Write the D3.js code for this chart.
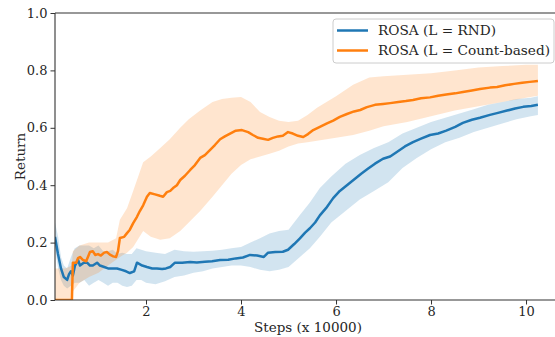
<!DOCTYPE html>
<html>
<head>
<meta charset="utf-8">
<script src="https://cdn.jsdelivr.net/npm/d3@7"></script>
<style>
  body { margin: 0; background: #fff; }
  svg { display: block; font-family: "DejaVu Serif", serif; }
</style>
</head>
<body>
<svg id="chart"></svg>
<script>
// ROSA (L = RND): mean curve
const rndX = [0.084, 0.147, 0.21, 0.27, 0.34, 0.38, 0.42, 0.46, 0.505, 0.57, 0.61, 0.69, 0.76, 0.82, 0.88, 0.97,
  1.03, 1.12, 1.2, 1.28, 1.39, 1.49, 1.58, 1.66, 1.75, 1.81, 1.92, 2.02, 2.13, 2.23, 2.34, 2.42, 2.51, 2.61, 2.76,
  2.93, 3.07, 3.24, 3.39, 3.56, 3.73, 3.89, 4.04, 4.19, 4.34, 4.48, 4.57, 4.72, 4.88, 4.99, 5.12, 5.24, 5.35, 5.45,
  5.56, 5.66, 5.79, 5.94, 6.08, 6.23, 6.38, 6.53, 6.67, 6.82, 6.99, 7.14, 7.28, 7.45, 7.62, 7.79, 7.98, 8.15, 8.32,
  8.51, 8.67, 8.86, 9.03, 9.24, 9.41, 9.6, 9.77, 9.94, 10.11, 10.25];
const rndMean = [0.22, 0.16, 0.11, 0.08, 0.07, 0.09, 0.10, 0.085, 0.12, 0.14, 0.12, 0.13, 0.13, 0.12, 0.12, 0.13,
  0.12, 0.115, 0.11, 0.11, 0.11, 0.105, 0.10, 0.094, 0.10, 0.13, 0.12, 0.115, 0.11, 0.11, 0.108, 0.11, 0.115, 0.13, 0.13,
  0.132, 0.131, 0.133, 0.135, 0.139, 0.14, 0.145, 0.148, 0.157, 0.155, 0.15, 0.165, 0.167, 0.168, 0.175, 0.195, 0.215, 0.235, 0.25,
  0.27, 0.295, 0.32, 0.355, 0.38, 0.40, 0.42, 0.44, 0.457, 0.475, 0.492, 0.50, 0.516, 0.535, 0.55, 0.562, 0.575, 0.58, 0.59,
  0.603, 0.617, 0.628, 0.635, 0.645, 0.652, 0.66, 0.667, 0.673, 0.676, 0.68];

// ROSA (L = RND): shaded band
const rndBandX = [0.084, 0.15, 0.21, 0.27, 0.34, 0.42, 0.5, 0.6, 0.7, 0.8, 0.9, 1.0, 1.1, 1.2, 1.3, 1.4, 1.5, 1.6,
  1.7, 1.8, 1.9, 2.0, 2.2, 2.4, 2.6, 2.8, 3.0, 3.2, 3.4, 3.6, 3.8, 4.0, 4.2, 4.4, 4.6, 4.8, 5.0, 5.24, 5.45, 5.66,
  5.9, 6.2, 6.5, 6.8, 7.1, 7.4, 7.7, 8.0, 8.3, 8.6, 8.9, 9.2, 9.5, 9.8, 10.1, 10.25];
const rndLow = [0.18, 0.11, 0.07, 0.05, 0.04, 0.05, 0.06, 0.06, 0.07, 0.05, 0.06, 0.07, 0.06, 0.05, 0.06, 0.06, 0.05, 0.045,
  0.05, 0.07, 0.07, 0.06, 0.055, 0.065, 0.08, 0.085, 0.095, 0.10, 0.11, 0.115, 0.12, 0.12, 0.115, 0.105, 0.10, 0.105, 0.115, 0.15, 0.18, 0.22,
  0.27, 0.31, 0.35, 0.38, 0.41, 0.46, 0.495, 0.525, 0.55, 0.565, 0.585, 0.60, 0.615, 0.63, 0.64, 0.645];
const rndHigh = [0.27, 0.22, 0.15, 0.12, 0.11, 0.15, 0.18, 0.19, 0.19, 0.19, 0.18, 0.19, 0.17, 0.17, 0.175, 0.16, 0.165, 0.16,
  0.16, 0.18, 0.175, 0.17, 0.165, 0.16, 0.175, 0.17, 0.168, 0.17, 0.172, 0.175, 0.18, 0.185, 0.2, 0.215, 0.232, 0.24, 0.245, 0.296, 0.34, 0.39,
  0.43, 0.475, 0.505, 0.53, 0.55, 0.58, 0.60, 0.62, 0.635, 0.65, 0.665, 0.68, 0.69, 0.70, 0.705, 0.71];

// ROSA (L = Count-based): mean curve
const cntX = [0.084, 0.44, 0.46, 0.53, 0.57, 0.61, 0.67, 0.74, 0.82, 0.88, 0.93, 0.99, 1.05, 1.12, 1.18, 1.24, 1.31,
  1.37, 1.41, 1.45, 1.54, 1.6, 1.66, 1.73, 1.81, 1.87, 1.94, 2.02, 2.08, 2.19, 2.29, 2.36, 2.44, 2.51, 2.57, 2.65,
  2.72, 2.82, 2.93, 3.03, 3.14, 3.24, 3.35, 3.45, 3.56, 3.66, 3.77, 3.89, 4.02, 4.15, 4.25, 4.36, 4.46, 4.57, 4.67,
  4.78, 4.88, 4.99, 5.09, 5.2, 5.31, 5.41, 5.52, 5.66, 5.81, 5.94, 6.08, 6.23, 6.38, 6.51, 6.65, 6.82, 6.99, 7.14,
  7.31, 7.47, 7.62, 7.79, 7.98, 8.15, 8.32, 8.51, 8.67, 8.86, 9.03, 9.24, 9.39, 9.56, 9.75, 9.92, 10.08, 10.25];
const cntMean = [0, 0, 0.13, 0.13, 0.146, 0.15, 0.14, 0.135, 0.167, 0.17, 0.157, 0.16, 0.155, 0.165, 0.167, 0.158, 0.152,
  0.15, 0.17, 0.216, 0.22, 0.233, 0.245, 0.268, 0.29, 0.31, 0.33, 0.36, 0.373, 0.368, 0.363, 0.36, 0.376, 0.38, 0.39, 0.40,
  0.418, 0.433, 0.453, 0.47, 0.495, 0.505, 0.523, 0.54, 0.56, 0.57, 0.58, 0.59, 0.592, 0.585, 0.575, 0.565, 0.562, 0.558, 0.565,
  0.57, 0.572, 0.585, 0.58, 0.572, 0.568, 0.578, 0.592, 0.603, 0.615, 0.625, 0.638, 0.648, 0.657, 0.662, 0.672, 0.68, 0.683, 0.686,
  0.69, 0.693, 0.697, 0.703, 0.706, 0.712, 0.716, 0.72, 0.725, 0.73, 0.735, 0.74, 0.742, 0.748, 0.753, 0.757, 0.76, 0.763];

// ROSA (L = Count-based): shaded band
const cntBandX = [0.084, 0.3, 0.44, 0.46, 0.6, 0.8, 1.0, 1.2, 1.37, 1.45, 1.6, 1.73, 1.94, 2.1, 2.3, 2.5, 2.72, 2.9,
  3.14, 3.4, 3.6, 3.8, 4.0, 4.2, 4.4, 4.6, 4.8, 5.0, 5.2, 5.4, 5.6, 5.8, 6.0, 6.36, 6.7, 7.0, 7.5, 8.0, 8.5, 9.0,
  9.5, 10.0, 10.25];
const cntLow = [0, 0, 0, 0.03, 0.06, 0.08, 0.095, 0.12, 0.14, 0.15, 0.165, 0.185, 0.24, 0.22, 0.21, 0.215, 0.24, 0.27,
  0.31, 0.36, 0.40, 0.44, 0.47, 0.49, 0.50, 0.51, 0.52, 0.535, 0.545, 0.55, 0.555, 0.56, 0.565, 0.575, 0.59, 0.605, 0.62, 0.64, 0.66, 0.675,
  0.69, 0.705, 0.712];
const cntHigh = [0.11, 0.11, 0.12, 0.17, 0.19, 0.2, 0.2, 0.2, 0.215, 0.28, 0.32, 0.38, 0.48, 0.5, 0.53, 0.56, 0.6, 0.63,
  0.66, 0.69, 0.70, 0.705, 0.707, 0.69, 0.655, 0.638, 0.625, 0.62, 0.625, 0.645, 0.67, 0.69, 0.71, 0.75, 0.775, 0.78, 0.785, 0.79, 0.80, 0.81,
  0.815, 0.82, 0.82];

const xTicks = [2, 4, 6, 8, 10];
const yTicks = [0.0, 0.2, 0.4, 0.6, 0.8, 1.0];
const seriesNames = ["ROSA (L = RND)", "ROSA (L = Count-based)"];

const width = 555;
const height = 337;
const margin = ({top: 13, right: 0, bottom: 37, left: 55});
const blue = "#1f77b4";
const orange = "#ff7f0e";
const ink = "#262626";

const svg = d3.select("#chart")
    .attr("width", width)
    .attr("height", height);

const x = d3.scaleLinear()
    .domain([0.084, 10.61])
    .range([margin.left, width - margin.right]);
const y = d3.scaleLinear()
    .domain([0, 1])
    .range([height - margin.bottom, margin.top]);

// shrink a text's font until it is no wider than maxWidth
function fitWidth(sel, size, maxWidth) {
    sel.style("font-size", size + "px");
    const w = sel.node().getComputedTextLength();
    if (w > maxWidth) sel.style("font-size", (size * maxWidth / w).toFixed(2) + "px");
}

svg.append("defs").append("clipPath")
    .attr("id", "plot-clip")
    .append("rect")
    .attr("x", margin.left)
    .attr("y", margin.top)
    .attr("width", width - margin.left - margin.right)
    .attr("height", height - margin.top - margin.bottom);

const plot = svg.append("g").attr("clip-path", "url(#plot-clip)");

const band = (xs, lo, hi) => d3.area()
    .x((d, i) => x(xs[i]))
    .y0((d, i) => y(lo[i]))
    .y1((d, i) => y(hi[i]))(xs);
const line = (xs, ys) => d3.line()
    .x((d, i) => x(xs[i]))
    .y((d, i) => y(ys[i]))(xs);

plot.append("path").attr("d", band(rndBandX, rndLow, rndHigh)).attr("fill", blue).attr("fill-opacity", 0.2);
plot.append("path").attr("d", band(cntBandX, cntLow, cntHigh)).attr("fill", orange).attr("fill-opacity", 0.2);
plot.append("path").attr("d", line(rndX, rndMean))
    .attr("fill", "none").attr("stroke", blue).attr("stroke-width", 2.5).attr("stroke-linejoin", "round");
plot.append("path").attr("d", line(cntX, cntMean))
    .attr("fill", "none").attr("stroke", orange).attr("stroke-width", 2.5).attr("stroke-linejoin", "round");

// axes
const xAxis = svg.append("g")
    .attr("transform", `translate(0,${height - margin.bottom})`)
    .call(d3.axisBottom(x).tickValues(xTicks).tickSize(4.5).tickPadding(2).tickFormat(d3.format("d")));
const yAxis = svg.append("g")
    .attr("transform", `translate(${margin.left},0)`)
    .call(d3.axisLeft(y).tickValues(yTicks).tickSize(4.5).tickPadding(3).tickFormat(d3.format(".1f")));

[xAxis, yAxis].forEach(g => {
    g.selectAll("path.domain").attr("stroke", "#333").attr("stroke-width", 1.1);
    g.selectAll(".tick line").attr("stroke", "#333").attr("stroke-width", 1);
    g.selectAll(".tick text").attr("fill", ink).style("font-size", "13px").style("font-family", "DejaVu Serif");
});
xAxis.select("path.domain").attr("d", `M${margin.left},0H${width}`);
yAxis.select("path.domain").attr("d", `M0,${y(1)}V${y(0)}`);

// top spine
svg.append("line")
    .attr("x1", margin.left).attr("x2", width)
    .attr("y1", y(1)).attr("y2", y(1))
    .attr("stroke", "#333").attr("stroke-width", 1.1);

svg.append("text")
    .attr("x", 308)
    .attr("y", 332)
    .attr("text-anchor", "middle")
    .attr("fill", ink)
    .text("Steps (x 10000)")
    .call(fitWidth, 13.5, 109);

svg.append("text")
    .attr("transform", `translate(25,${(y(0) + y(1)) / 2}) rotate(-90)`)
    .attr("text-anchor", "middle")
    .attr("fill", ink)
    .style("font-size", "13.5px")
    .text("Return");

// legend
const legend = svg.append("g").attr("transform", "translate(333,19)");
legend.append("rect")
    .attr("width", 221).attr("height", 44).attr("rx", 3)
    .attr("fill", "#fff").attr("fill-opacity", 0.8)
    .attr("stroke", "#ccc").attr("stroke-width", 1);
const legendSize = 14;
const legendTexts = [];
[blue, orange].forEach((c, i) => {
    const row = legend.append("g").attr("transform", `translate(0,${11.5 + i * 20})`);
    row.append("line").attr("x1", 4).attr("x2", 35).attr("stroke", c).attr("stroke-width", 2.5);
    legendTexts.push(row.append("text").attr("x", 45).attr("dy", "0.35em")
        .attr("fill", ink).style("font-size", legendSize + "px")
        .text(seriesNames[i]));
});
// both rows share one size, fitted so the longer label ends inside the box
const longest = d3.max(legendTexts, t => t.node().getComputedTextLength());
const fitted = Math.min(legendSize, legendSize * 172 / longest);
legendTexts.forEach(t => t.style("font-size", fitted.toFixed(2) + "px"));
</script>
</body>
</html>
